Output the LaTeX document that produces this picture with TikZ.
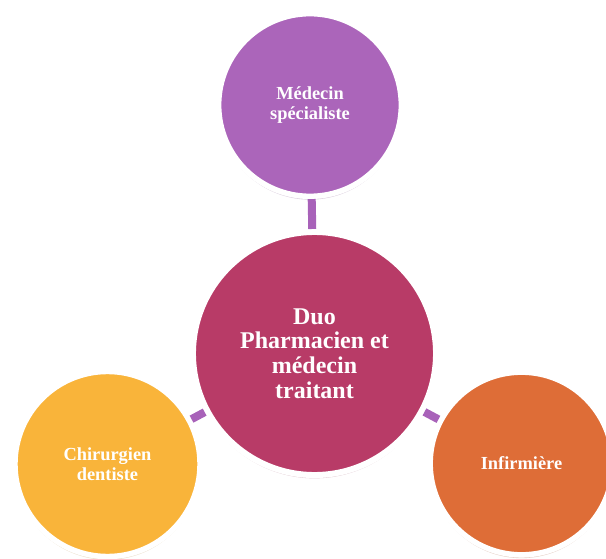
\documentclass[tikz,border=0pt]{standalone}
\usepackage{fontspec}
\setmainfont{Liberation Serif}
\usetikzlibrary{shadows}
\definecolor{cpurple}{HTML}{AB65BA}
\definecolor{ccenter}{HTML}{B83B67}
\definecolor{cyellow}{HTML}{F9B43A}
\definecolor{corange}{HTML}{DE6D37}
\definecolor{clink}{HTML}{A862B9}
\tikzset{
  bubble/.style={circle, draw=white, text=white, align=center, inner sep=0pt,
    font=\bfseries\fontsize{13.8}{15}\selectfont,
    drop shadow={shadow xshift=0pt, shadow yshift=-2.5pt, opacity=0.25, fill=#1!70!black}},
  smallbubble/.style={bubble=#1, fill=#1, minimum size=137pt, line width=4.1pt},
  bigbubble/.style={bubble=#1, fill=#1, minimum size=182.3pt, line width=4.5pt,
    font=\bfseries\fontsize{18}{18.5}\selectfont},
  link/.style={draw=clink, line width=6pt}
}
\begin{document}
\begin{tikzpicture}[x=0.75pt,y=-0.75pt]
\useasboundingbox (0,0) rectangle (606,559);
\clip (0,0) rectangle (606,559);
\node[smallbubble=cpurple] (top) at (310,105) {Médecin\\spécialiste};
\node[bigbubble=ccenter] (mid) at (314.5,353.5) {Duo\\Pharmacien et\\médecin\\traitant};
\node[smallbubble=cyellow, minimum size=138.8pt] (left) at (107.5,464) {Chirurgien\\dentiste};
\node[smallbubble=corange] (right) at (521.5,463.5) {Infirmière};
\draw[link] (mid) -- (top);
\draw[link] (mid) -- (left);
\draw[link] (mid) -- (right);
\end{tikzpicture}
\end{document}
